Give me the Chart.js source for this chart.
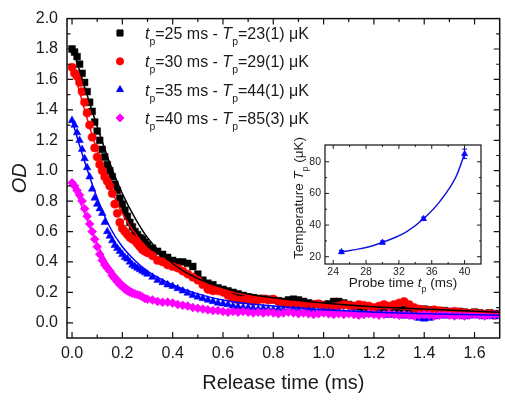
<!DOCTYPE html>
<html>
<head>
<meta charset="utf-8">
<script src="https://cdn.jsdelivr.net/npm/chart.js@4.4.0/dist/chart.umd.min.js"></script>
<style>
  html, body { margin: 0; padding: 0; background: #fff; }
  #wrap { position: relative; width: 505px; height: 400px; }
  #main { position: absolute; left: 0; top: 0; width: 505px; height: 400px; }
  #inset { position: absolute; left: 270px; top: 130px; width: 225px; height: 175px; }
</style>
</head>
<body>
<div id="wrap">
  <canvas id="main" width="505" height="400"></canvas>
  <canvas id="inset" width="225" height="175"></canvas>
</div>
<script>
// release time (ms), shared by all four OD series
const releaseTime = [
  0.00,0.01,0.02,0.03,0.04,0.05,0.06,0.07,0.08,0.09,
  0.10,0.11,0.12,0.13,0.14,0.15,0.16,0.17,0.18,0.19,
  0.20,0.21,0.22,0.23,0.24,0.25,0.26,0.27,0.28,0.29,
  0.30,
  0.32,0.34,0.36,0.38,0.40,0.42,0.44,0.46,0.48,0.50,
  0.52,0.54,0.56,0.58,0.60,0.62,0.64,0.66,0.68,0.70,
  0.72,0.74,0.76,0.78,0.80,0.82,0.84,0.86,0.88,0.90,
  0.92,0.94,0.96,0.98,1.00,1.02,1.04,1.06,1.08,1.10,
  1.12,1.14,1.16,1.18,1.20,1.22,1.24,1.26,1.28,1.30,
  1.32,1.34,1.36,1.38,1.40,1.42,1.44,1.46,1.48,1.50,
  1.52,1.54,1.56,1.58,1.60,1.62,1.64,1.66,1.68,1.70
];

const odTp25 = [
  1.80,1.78,1.75,1.70,1.64,1.58,1.52,1.45,1.39,1.32,
  1.26,1.20,1.14,1.09,1.04,1.00,0.96,0.91,0.87,0.82,
  0.78,0.74,0.70,0.66,0.63,0.60,0.58,0.56,0.55,0.53,
  0.51,
  0.49,0.47,0.45,0.43,0.41,0.40,0.40,0.39,0.37,0.32,
  0.28,0.26,0.25,0.23,0.22,0.21,0.20,0.19,0.18,0.17,
  0.165,0.16,0.16,0.155,0.15,0.145,0.14,0.15,0.155,0.15,
  0.14,0.13,0.125,0.12,0.12,0.125,0.14,0.14,0.13,0.12,
  0.11,0.105,0.10,0.10,0.095,0.10,0.095,0.09,0.09,0.085,
  0.09,0.085,0.08,0.085,0.09,0.085,0.08,0.075,0.08,0.075,
  0.07,0.075,0.07,0.065,0.07,0.065,0.06,0.065,0.06,0.06
];

const odTp30 = [
  1.68,1.64,1.62,1.58,1.52,1.45,1.38,1.30,1.22,1.15,
  1.09,1.04,1.00,0.96,0.93,0.90,0.85,0.78,0.72,0.66,
  0.62,0.60,0.58,0.56,0.55,0.54,0.52,0.50,0.48,0.47,
  0.46,
  0.44,0.41,0.40,0.38,0.37,0.36,0.34,0.32,0.30,0.28,
  0.25,0.22,0.21,0.21,0.20,0.18,0.16,0.15,0.15,0.155,
  0.14,0.15,0.155,0.15,0.155,0.14,0.13,0.12,0.12,0.12,
  0.115,0.11,0.12,0.125,0.11,0.10,0.105,0.11,0.12,0.115,
  0.11,0.12,0.115,0.11,0.10,0.11,0.12,0.11,0.12,0.13,
  0.14,0.12,0.10,0.09,0.085,0.08,0.085,0.08,0.075,0.07,
  0.075,0.07,0.065,0.06,0.065,0.06,0.055,0.06,0.05,0.055
];

const odTp35 = [
  1.33,1.30,1.25,1.20,1.14,1.08,1.02,0.96,0.88,0.82,
  0.78,0.75,0.72,0.66,0.60,0.57,0.54,0.51,0.49,0.47,
  0.45,0.43,0.42,0.40,0.38,0.37,0.36,0.35,0.34,0.33,
  0.32,
  0.30,0.28,0.265,0.25,0.24,0.225,0.21,0.195,0.18,0.17,
  0.16,0.15,0.14,0.13,0.125,0.12,0.11,0.105,0.10,0.10,
  0.095,0.09,0.095,0.09,0.085,0.09,0.085,0.08,0.085,0.08,
  0.075,0.08,0.075,0.07,0.075,0.07,0.065,0.07,0.065,0.06,
  0.065,0.06,0.055,0.06,0.055,0.06,0.055,0.05,0.055,0.05,
  0.045,0.05,0.04,0.03,0.025,0.03,0.04,0.05,0.045,0.05,
  0.045,0.05,0.04,0.045,0.05,0.045,0.04,0.045,0.04,0.045
];

const odTp40 = [
  0.92,0.90,0.87,0.84,0.80,0.75,0.70,0.65,0.60,0.55,
  0.50,0.45,0.41,0.38,0.36,0.34,0.31,0.29,0.27,0.25,
  0.24,0.22,0.21,0.20,0.195,0.19,0.185,0.18,0.17,0.16,
  0.155,
  0.15,0.14,0.135,0.135,0.13,0.12,0.115,0.11,0.10,0.095,
  0.09,0.085,0.08,0.08,0.075,0.07,0.075,0.07,0.075,0.07,
  0.065,0.07,0.065,0.07,0.065,0.06,0.065,0.07,0.065,0.06,
  0.065,0.06,0.055,0.06,0.065,0.06,0.055,0.06,0.055,0.06,
  0.055,0.05,0.055,0.06,0.055,0.05,0.055,0.06,0.055,0.05,
  0.055,0.05,0.045,0.05,0.055,0.05,0.045,0.05,0.055,0.05,
  0.045,0.05,0.045,0.05,0.055,0.05,0.045,0.05,0.055,0.05
];

const fitTime  = [0, 0.05, 0.1, 0.15, 0.2, 0.25, 0.3, 0.4, 0.5, 0.6, 0.7, 0.8, 1.0, 1.2, 1.4, 1.7];
const fitTp25 = [1.82, 1.55, 1.29, 1.05, 0.85, 0.69, 0.56, 0.39, 0.29, 0.23, 0.19, 0.165, 0.13, 0.105, 0.09, 0.07];
const fitTp30 = [1.70, 1.40, 1.13, 0.90, 0.72, 0.59, 0.49, 0.36, 0.28, 0.22, 0.18, 0.155, 0.12, 0.10, 0.085, 0.065];
const fitTp35 = [1.33, 1.06, 0.82, 0.63, 0.50, 0.41, 0.34, 0.25, 0.19, 0.15, 0.125, 0.11, 0.085, 0.07, 0.06, 0.05];
const fitTp40 = [0.92, 0.72, 0.52, 0.37, 0.27, 0.21, 0.17, 0.12, 0.095, 0.08, 0.075, 0.07, 0.065, 0.06, 0.055, 0.05];

// inset: temperature vs probe time
const probeTime   = [25, 30, 35, 40];
const temperature = [23, 29, 44, 85];
const tempErr     = [1, 1, 1, 3];
const inFitTime = [25, 27, 29, 31, 33, 35, 37, 39, 40];
const inFitTemp = [23, 24.8, 27.3, 31, 36, 44, 55, 71, 85];

// tick labels
const xTicks = [0, 0.2, 0.4, 0.6, 0.8, 1.0, 1.2, 1.4, 1.6];
const yTicks = [0, 0.2, 0.4, 0.6, 0.8, 1.0, 1.2, 1.4, 1.6, 1.8, 2.0];
const inXTicks = [24, 28, 32, 36, 40];
const inYTicks = [20, 40, 60, 80];

const FONT = '"Liberation Sans", Arial, sans-serif';
const INK = '#1a1a1a';
const styles = [
  { color: '#000000', pointStyle: 'rect', radius: 4.8 },
  { color: '#ff0000', pointStyle: 'circle', radius: 4.1 },
  { color: '#0000ff', pointStyle: 'triangle', radius: 4.4 },
  { color: '#ff00ff', pointStyle: 'rectRot', radius: 4.5 }
];
const series = [odTp25, odTp30, odTp35, odTp40];
const fits = [fitTp25, fitTp30, fitTp35, fitTp40];

function pairs(xs, ys) {
  return xs.map((x, i) => ({ x: x, y: ys[i] }));
}

// major + minor tick positions, minor halfway between majors
function tickList(major) {
  const out = [];
  const step = major[1] - major[0];
  major.forEach(v => out.push([v, true]));
  for (let i = -1; i < major.length; i++) out.push([major[0] + (i + 0.5) * step, false]);
  return out;
}

// box frame with inward ticks on all four sides
function framePlugin(xMajor, yMajor, majLen, minLen, lw) {
  return {
    id: 'frame',
    afterDraw(chart) {
      const { ctx, chartArea: a, scales } = chart;
      ctx.save();
      ctx.strokeStyle = '#111';
      ctx.lineWidth = lw;
      ctx.strokeRect(a.left, a.top, a.right - a.left, a.bottom - a.top);
      ctx.lineWidth = lw * 0.8;
      ctx.beginPath();
      tickList(xMajor).forEach(([v, big]) => {
        const px = scales.x.getPixelForValue(v);
        if (px < a.left + 2 || px > a.right - 2) return;
        const len = big ? majLen : minLen;
        ctx.moveTo(px, a.bottom); ctx.lineTo(px, a.bottom - len);
        ctx.moveTo(px, a.top); ctx.lineTo(px, a.top + len);
      });
      tickList(yMajor).forEach(([v, big]) => {
        const py = scales.y.getPixelForValue(v);
        if (py < a.top + 2 || py > a.bottom - 2) return;
        const len = big ? majLen : minLen;
        ctx.moveTo(a.left, py); ctx.lineTo(a.left + len, py);
        ctx.moveTo(a.right, py); ctx.lineTo(a.right - len, py);
      });
      ctx.stroke();
      ctx.restore();
    }
  };
}

// text with italic letters and subscripts; y is the baseline
function richWidth(ctx, parts, size) {
  let w = 0;
  parts.forEach(p => {
    const fs = p.sub ? size * 0.65 : size;
    ctx.font = (p.italic ? 'italic ' : '') + fs + 'px ' + FONT;
    w += ctx.measureText(p.text).width;
  });
  return w;
}
function drawRich(ctx, parts, x, y, size) {
  parts.forEach(p => {
    const fs = p.sub ? size * 0.65 : size;
    ctx.font = (p.italic ? 'italic ' : '') + fs + 'px ' + FONT;
    ctx.fillText(p.text, x, y + (p.sub ? size * 0.38 : 0));
    x += ctx.measureText(p.text).width;
  });
}

const legendPlugin = {
  id: 'odLegend',
  afterDraw(chart) {
    const ctx = chart.ctx;
    ctx.save();
    probeTime.forEach((tp, i) => {
      const yc = 33 + i * 28.3;
      const st = styles[i];
      ctx.fillStyle = st.color;
      ctx.strokeStyle = st.color;
      ctx.lineWidth = 1;
      Chart.helpers.drawPoint(ctx, { pointStyle: st.pointStyle, radius: st.radius - 0.5, rotation: 0, borderWidth: 1 }, 120, yc);
      ctx.fillStyle = INK;
      ctx.textBaseline = 'alphabetic';
      drawRich(ctx, [
        { text: 't', italic: true }, { text: 'p', sub: true },
        { text: '=' + tp + ' ms - ' },
        { text: 'T', italic: true }, { text: 'p', sub: true },
        { text: '=' + temperature[i] + '(' + tempErr[i] + ') \u03bcK' }
      ], 145, yc + 6, 16);
    });
    ctx.restore();
  }
};

const mainSets = [];
series.forEach((s, i) => {
  mainSets.push({
    data: pairs(releaseTime, s),
    showLine: false,
    pointStyle: styles[i].pointStyle,
    pointRadius: styles[i].radius,
    pointBackgroundColor: styles[i].color,
    pointBorderColor: styles[i].color,
    pointBorderWidth: 0.5,
    order: 4 - i
  });
});
fits.forEach((f, i) => {
  mainSets.push({
    data: pairs(fitTime, f),
    showLine: true,
    borderColor: styles[i].color,
    borderWidth: 1.5,
    pointRadius: 0,
    cubicInterpolationMode: 'monotone',
    order: 0
  });
});

new Chart(document.getElementById('main'), {
  type: 'scatter',
  data: { datasets: mainSets },
  options: {
    responsive: false,
    animation: false,
    layout: { padding: { top: 13, right: 4, left: 0, bottom: 0 } },
    plugins: { legend: { display: false }, tooltip: { enabled: false } },
    scales: {
      x: {
        type: 'linear', min: -0.02, max: 1.70,
        afterBuildTicks: s => { s.ticks = xTicks.map(v => ({ value: v })); },
        afterFit: s => { s.height = 62; },
        grid: { display: false, drawTicks: false },
        border: { display: false },
        ticks: { padding: 6, color: INK, maxRotation: 0, autoSkip: false,
                 font: { size: 16, family: FONT }, callback: v => v.toFixed(1) },
        title: { display: true, text: 'Release time (ms)', color: INK,
                 font: { size: 20, family: FONT }, padding: { top: 0, bottom: 5 } }
      },
      y: {
        type: 'linear', min: -0.1, max: 2.0,
        afterBuildTicks: s => { s.ticks = yTicks.map(v => ({ value: v })); },
        afterFit: s => { s.width = 67; },
        grid: { display: false, drawTicks: false },
        border: { display: false },
        ticks: { padding: 9, color: INK, autoSkip: false,
                 font: { size: 16, family: FONT }, callback: v => v.toFixed(1) },
        title: { display: true, text: 'OD', color: INK,
                 font: { size: 20, family: FONT, style: 'italic' }, padding: { top: 8, bottom: 0 } }
      }
    }
  },
  plugins: [framePlugin(xTicks, yTicks, 6, 3.5, 1.5), legendPlugin]
});

// inset
const insetDeco = {
  id: 'insetDeco',
  afterDatasetsDraw(chart) {
    const { ctx, scales } = chart;
    ctx.save();
    ctx.strokeStyle = '#0000ff';
    ctx.lineWidth = 1;
    ctx.beginPath();
    probeTime.forEach((t, i) => {
      const px = scales.x.getPixelForValue(t);
      const lo = scales.y.getPixelForValue(temperature[i] - tempErr[i]);
      const hi = scales.y.getPixelForValue(temperature[i] + tempErr[i]);
      ctx.moveTo(px, lo); ctx.lineTo(px, hi);
      ctx.moveTo(px - 2.5, lo); ctx.lineTo(px + 2.5, lo);
      ctx.moveTo(px - 2.5, hi); ctx.lineTo(px + 2.5, hi);
    });
    ctx.stroke();
    ctx.restore();
  },
  afterDraw(chart) {
    const { ctx, chartArea: a } = chart;
    ctx.save();
    ctx.fillStyle = INK;
    ctx.textBaseline = 'alphabetic';
    const xt = [{ text: 'Probe time ' }, { text: 't', italic: true }, { text: 'p', sub: true }, { text: ' (ms)' }];
    const wx = richWidth(ctx, xt, 13.5);
    drawRich(ctx, xt, (a.left + a.right) / 2 - wx / 2, 156.5, 13.5);
    const yt = [{ text: 'Temperature ' }, { text: 'T', italic: true }, { text: 'p', sub: true }, { text: ' (\u03bcK)' }];
    const wy = richWidth(ctx, yt, 13.5);
    ctx.translate(33, 68);
    ctx.rotate(-Math.PI / 2);
    drawRich(ctx, yt, -wy / 2, 0, 13.5);
    ctx.restore();
  }
};

new Chart(document.getElementById('inset'), {
  type: 'scatter',
  data: {
    datasets: [
      {
        data: pairs(probeTime, temperature),
        showLine: false,
        pointStyle: 'triangle',
        pointRadius: 3.6,
        pointBackgroundColor: '#0000ff',
        pointBorderColor: '#0000ff',
        pointBorderWidth: 0.5
      },
      {
        data: pairs(inFitTime, inFitTemp),
        showLine: true,
        borderColor: '#1515e0',
        borderWidth: 1.5,
        pointRadius: 0,
        cubicInterpolationMode: 'monotone'
      }
    ]
  },
  options: {
    responsive: false,
    animation: false,
    layout: { padding: { top: 15, right: 14, left: 0, bottom: 0 } },
    plugins: { legend: { display: false }, tooltip: { enabled: false } },
    scales: {
      x: {
        type: 'linear', min: 23, max: 42,
        afterBuildTicks: s => { s.ticks = inXTicks.map(v => ({ value: v })); },
        afterFit: s => { s.height = 41; },
        grid: { display: false, drawTicks: false },
        border: { display: false },
        ticks: { padding: 2, color: INK, maxRotation: 0, autoSkip: false,
                 font: { size: 10.5, family: FONT } }
      },
      y: {
        type: 'linear', min: 15.4, max: 90.6,
        afterBuildTicks: s => { s.ticks = inYTicks.map(v => ({ value: v })); },
        afterFit: s => { s.width = 55; },
        grid: { display: false, drawTicks: false },
        border: { display: false },
        ticks: { padding: 4, color: INK, autoSkip: false,
                 font: { size: 10.5, family: FONT } }
      }
    }
  },
  plugins: [framePlugin(inXTicks, inYTicks, 4, 2, 1.2), insetDeco]
});
</script>
</body>
</html>
